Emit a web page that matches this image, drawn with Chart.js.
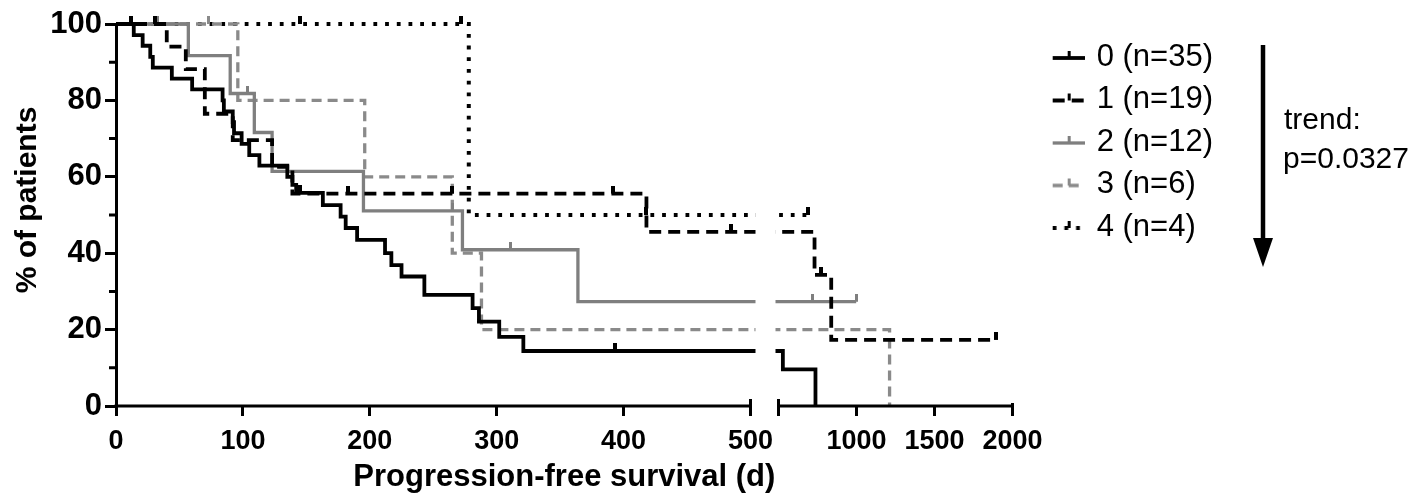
<!DOCTYPE html>
<html><head><meta charset="utf-8">
<script src="https://cdn.jsdelivr.net/npm/chart.js@4.4.1/dist/chart.umd.min.js"></script>
<style>html,body{margin:0;padding:0;background:#fff;} canvas{display:block}</style>
</head><body>
<canvas id="c" width="1420" height="501"></canvas>
<script>
// ---------------- data ----------------
const seriesLabels = ['0 (n=35)', '1 (n=19)', '2 (n=12)', '3 (n=6)', '4 (n=4)'];

const g0Time = [0, 14, 21, 27, 29, 44, 60, 84, 85, 92, 93, 99, 105, 113, 135, 139, 142, 145, 163, 177, 181, 190, 212, 217, 225, 243, 281, 286, 302, 321, 393, 528, 737];
const g0Surv = [100, 97.1, 94.3, 91.4, 88.6, 85.7, 82.9, 80.0, 77.1, 74.3, 71.4, 68.6, 65.7, 62.9, 60.0, 57.9, 55.8, 55.8, 52.6, 49.6, 46.6, 43.5, 40.0, 36.9, 33.9, 29.1, 25.6, 22.1, 18.1, 14.4, 14.4, 9.6, 0];
const g0Cens = [0,0,0,0,0,0,0,0,0,0, 0,0,0,0,0,0,0,1,0,0, 0,0,0,0,0,0,0,0,0,0, 1,0,0];

const g1Time = [0, 12, 31, 40, 55, 70, 92, 123, 139, 183, 265, 392, 418, 485, 731, 774, 838, 1895];
const g1Surv = [100, 100, 100, 94.1, 88.2, 76.5, 69.6, 62.6, 55.6, 55.6, 55.6, 55.6, 45.6, 45.6, 34.3, 34.3, 17.3, 17.3];
const g1Cens = [0, 1, 1, 0, 0, 0, 0, 0, 0, 1, 1, 1, 0, 1, 0, 1, 0, 1];

const g2Time = [0, 33, 57, 90, 104, 109, 123, 195, 265, 273, 311, 364, 720, 998];
const g2Surv = [100, 100, 91.7, 81.8, 81.8, 71.6, 61.4, 51.1, 51.1, 40.9, 40.9, 27.3, 27.3, 27.3];
const g2Cens = [0, 1, 0, 0, 1, 0, 0, 0, 1, 0, 1, 0, 1, 1];

const g3Time = [0, 73, 96, 196, 265, 288, 1212];
const g3Surv = [100, 100, 80, 60, 40, 20, 0];
const g3Cens = [0, 1, 0, 0, 0, 0, 0];

const g4Time = [0, 145, 272, 278, 418, 688];
const g4Surv = [100, 100, 100, 50, 50, 50];
const g4Cens = [0, 1, 1, 0, 1, 1];

const xTickValues = [0, 100, 200, 300, 400, 500, 1000, 1500, 2000];
const yTickValues = [0, 20, 40, 60, 80, 100];
const yMinorTicks = [10, 30, 50, 70, 90];
const xBreakValue = 500;
const xMaxValue = 2000;
const xTitle = 'Progression-free survival (d)';
const yTitle = '% of patients';
const trendText = ['trend:', 'p=0.0327'];

// ---------------- styles ----------------
const seriesStyle = [
  {color: '#000000', width: 3.8, dash: []},
  {color: '#000000', width: 3.8, dash: [12, 7]},
  {color: '#7f7f7f', width: 3.3, dash: []},
  {color: '#8a8a8a', width: 3.3, dash: [10, 6]},
  {color: '#000000', width: 4, dash: [3.8, 7.9]}
];
const SANS = '"Liberation Sans", Arial, Helvetica, sans-serif';

// censor tick: vertical stroke rising from the curve
function censorMark(color, w, h) {
  const c = document.createElement('canvas');
  c.width = Math.ceil(w); c.height = h * 2;
  const g = c.getContext('2d');
  g.fillStyle = color; g.fillRect(0, 0, c.width, h);
  return c;
}
// legend sample: short line in the series style with a censor tick (drawn in right half)
function legendSample(st) {
  const c = document.createElement('canvas');
  c.width = 64; c.height = 20;
  const g = c.getContext('2d');
  g.strokeStyle = st.color; g.lineWidth = st.width; g.lineCap = 'butt';
  g.setLineDash(st.dash);
  g.beginPath(); g.moveTo(32, 11); g.lineTo(64, 11); g.stroke();
  g.setLineDash([]);
  g.fillStyle = st.color;
  g.fillRect(47, 4, Math.ceil(st.width) - 1, 7);
  return c;
}

// ---------------- broken linear scale ----------------
class BrokenLinearScale extends Chart.LinearScale {
  getPixelForValue(value) {
    const b = this.options.brokenAxis;
    if (value <= b.at) return this.left + (value - this.min) / (b.at - this.min) * b.leftPx;
    return this.left + b.leftPx + b.gapPx + (value - b.at) / (this.max - b.at) * b.rightPx;
  }
  getValueForPixel(pixel) {
    const b = this.options.brokenAxis;
    const p = pixel - this.left;
    if (p <= b.leftPx) return this.min + p / b.leftPx * (b.at - this.min);
    return b.at + (p - b.leftPx - b.gapPx) / b.rightPx * (this.max - b.at);
  }
}
BrokenLinearScale.id = 'brokenLinear';
BrokenLinearScale.defaults = Chart.LinearScale.defaults;
Chart.register(BrokenLinearScale);

const groups = [
  [g0Time, g0Surv, g0Cens], [g1Time, g1Surv, g1Cens], [g2Time, g2Surv, g2Cens],
  [g3Time, g3Surv, g3Cens], [g4Time, g4Surv, g4Cens]
];

const datasets = groups.map(([t, s, c], i) => {
  const st = seriesStyle[i];
  return {
    label: seriesLabels[i],
    data: t.map((x, k) => ({x: x, y: s[k]})),
    borderColor: st.color,
    backgroundColor: st.color,
    borderWidth: st.width,
    borderDash: st.dash,
    borderCapStyle: 'butt',
    borderJoinStyle: 'miter',
    stepped: 'before',
    fill: false,
    tension: 0,
    pointStyle: censorMark(st.color, st.width - 0.5, 8),
    pointRadius: (ctx) => c[ctx.dataIndex] ? 5 : 0,
    pointHoverRadius: (ctx) => c[ctx.dataIndex] ? 5 : 0,
    pointBorderWidth: 0,
    clip: {left: 4, right: 4, top: 10, bottom: 2}
  };
});

const brokenAxisPlugin = {
  id: 'brokenAxisDecor',
  afterDatasetsDraw(chart) {
    const x = chart.scales.x, ca = chart.chartArea, ctx = chart.ctx;
    const b = x.options.brokenAxis;
    const xa = x.getPixelForValue(xBreakValue);
    const xb = x.left + b.leftPx + b.gapPx;
    ctx.save();
    ctx.fillStyle = '#ffffff';
    ctx.fillRect(xa + 5, ca.top - 12, (xb - 3) - (xa + 5), ca.bottom - ca.top + 10);
    ctx.restore();
  },
  afterDraw(chart) {
    const x = chart.scales.x, y = chart.scales.y, ca = chart.chartArea, ctx = chart.ctx;
    const b = x.options.brokenAxis;
    const xa = x.getPixelForValue(xBreakValue);
    const xb = x.left + b.leftPx + b.gapPx;
    const xe = x.getPixelForValue(xMaxValue);
    const yb = ca.bottom;
    ctx.save();
    ctx.strokeStyle = '#000'; ctx.lineWidth = 3; ctx.lineCap = 'butt';
    ctx.beginPath();
    ctx.moveTo(ca.left - 1.5, yb); ctx.lineTo(xa + 1.5, yb);
    ctx.moveTo(xb - 1.5, yb); ctx.lineTo(xe + 1.5, yb);
    ctx.moveTo(xa, yb - 7); ctx.lineTo(xa, yb + 10);
    ctx.moveTo(xb, yb - 7); ctx.lineTo(xb, yb + 10);
    ctx.moveTo(xe, yb - 3); ctx.lineTo(xe, yb + 10);
    yMinorTicks.forEach(v => {
      const py = y.getPixelForValue(v);
      ctx.moveTo(ca.left - 7, py); ctx.lineTo(ca.left, py);
    });
    ctx.stroke();
    // y-axis title, centred where the reference puts it
    ctx.save();
    ctx.fillStyle = '#000';
    ctx.font = 'bold 30px ' + SANS;
    ctx.textAlign = 'center'; ctx.textBaseline = 'middle';
    ctx.translate(28, 200); ctx.rotate(-Math.PI / 2);
    ctx.fillText(yTitle, 0, 0);
    ctx.restore();
    // trend arrow
    ctx.lineWidth = 4.5;
    ctx.beginPath();
    ctx.moveTo(1263, 45); ctx.lineTo(1263, 242);
    ctx.stroke();
    ctx.fillStyle = '#000';
    ctx.beginPath();
    ctx.moveTo(1253, 238); ctx.lineTo(1273, 238); ctx.lineTo(1263, 267); ctx.closePath();
    ctx.fill();
    ctx.font = '30px ' + SANS;
    ctx.textBaseline = 'middle'; ctx.textAlign = 'left';
    ctx.fillText(trendText[0], 1284, 121);
    ctx.fillText(trendText[1], 1283, 160);
    ctx.restore();
  }
};

new Chart(document.getElementById('c'), {
  type: 'line',
  data: { datasets: datasets },
  plugins: [brokenAxisPlugin],
  options: {
    responsive: false,
    animation: false,
    devicePixelRatio: 1,
    events: [],
    layout: { padding: { top: 24, right: 197, bottom: 0, left: 0 } },
    plugins: {
      legend: {
        position: 'right',
        align: 'start',
        title: { display: true, text: '', padding: { top: 0, bottom: 5 }, font: { size: 1, lineHeight: 1 } },
        labels: {
          usePointStyle: true,
          pointStyleWidth: 57,
          padding: 11.5,
          color: '#000',
          font: { family: SANS, size: 31 },
          generateLabels: (chart) => chart.data.datasets.map((ds, i) => ({
            text: ds.label,
            fontColor: '#000',
            fillStyle: seriesStyle[i].color,
            strokeStyle: seriesStyle[i].color,
            lineWidth: 0,
            pointStyle: legendSample(seriesStyle[i]),
            hidden: false,
            datasetIndex: i
          }))
        }
      },
      tooltip: { enabled: false }
    },
    scales: {
      x: {
        type: 'brokenLinear',
        min: 0,
        max: xMaxValue,
        brokenAxis: { at: xBreakValue, leftPx: 634.5, gapPx: 28, rightPx: 234 },
        afterBuildTicks: (s) => { s.ticks = xTickValues.map(v => ({value: v})); },
        afterFit: (s) => { s.height = 95; },
        border: { display: false },
        grid: { display: true, drawOnChartArea: false, drawTicks: true, tickLength: 10, tickWidth: 3, tickColor: '#000', lineWidth: 3, color: '#000' },
        ticks: { autoSkip: false, maxRotation: 0, padding: 9, color: '#000', font: { family: SANS, size: 27, weight: 'bold' }, callback: (v) => String(v) },
        title: { display: true, text: xTitle, color: '#000', font: { family: SANS, size: 31, weight: 'bold' }, padding: { top: 0, bottom: 5 } }
      },
      y: {
        type: 'linear',
        min: 0,
        max: 100,
        afterBuildTicks: (s) => { s.ticks = yTickValues.map(v => ({value: v})); },
        afterFit: (s) => { s.width = 116; },
        border: { display: true, width: 3, color: '#000' },
        grid: { display: true, drawOnChartArea: false, drawTicks: true, tickLength: 11, tickWidth: 3, tickColor: '#000', lineWidth: 3, color: '#000' },
        ticks: { padding: 3, color: '#000', font: { family: SANS, size: 31, weight: 'bold' }, callback: (v) => String(v) },
        title: { display: false, text: yTitle }
      }
    }
  }
});
</script>
</body></html>
